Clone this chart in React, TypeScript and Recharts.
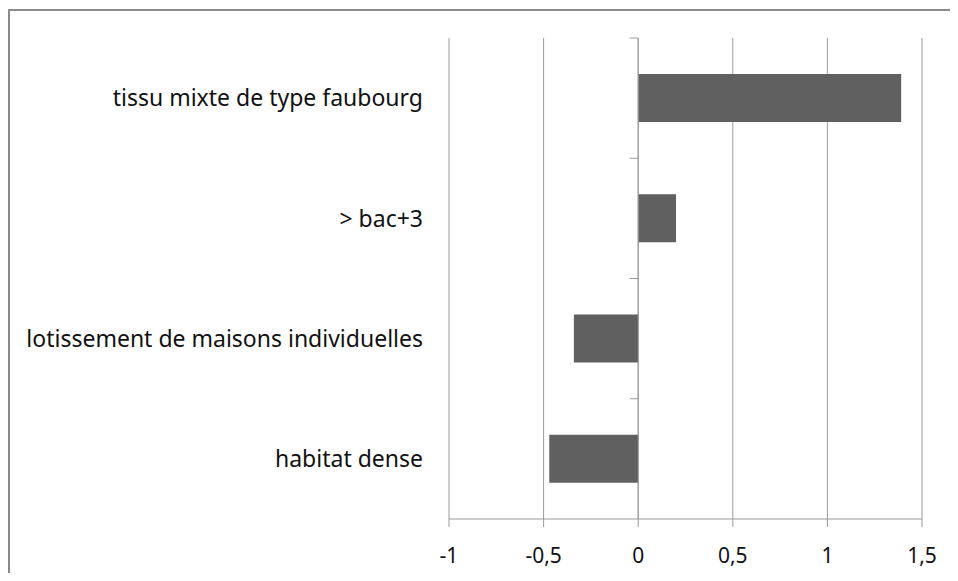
import { BarChart, Bar, XAxis, YAxis, CartesianGrid, ReferenceLine } from 'recharts';

const CATEGORIES = [
  'tissu mixte de type faubourg',
  '> bac+3',
  'lotissement de maisons individuelles',
  'habitat dense',
];
const VALUES = [1.39, 0.2, -0.34, -0.47];
const X_TICKS = [-1, -0.5, 0, 0.5, 1, 1.5];

const data = CATEGORIES.map((name, i) => ({ name, value: VALUES[i] }));

const FONT = '"Noto Sans", sans-serif';
const LINE = '#9a9a9a';

const fmt = (v: number) => String(v).replace('.', ',');

export default function App() {
  return (
    <div style={{ position: 'relative', width: 942, height: 565, overflow: 'hidden', background: '#fff' }}>
      <div
        style={{
          position: 'absolute',
          left: 0,
          top: 1,
          width: 2000,
          height: 2000,
          border: '2px solid #8a8a8a',
        }}
      />
      <div style={{ position: 'absolute', left: 0, top: 0 }}>
        <BarChart
          width={942}
          height={565}
          data={data}
          layout="vertical"
          barCategoryGap="30%"
          margin={{ top: 30, right: 28, bottom: 14, left: 0 }}
        >
          <CartesianGrid horizontal={false} stroke={LINE} />
          <XAxis
            type="number"
            domain={[-1, 1.5]}
            ticks={X_TICKS}
            tickFormatter={fmt}
            axisLine={{ stroke: LINE }}
            tickLine={{ stroke: LINE }}
            tickSize={8}
            tickMargin={21}
            height={40}
            tick={{ fontSize: 21, fill: '#111', fontFamily: FONT }}
            interval={0}
          />
          <YAxis
            type="category"
            dataKey="name"
            width={441}
            axisLine={false}
            tickLine={false}
            tickSize={0}
            tickMargin={26}
            tick={{ fontSize: 23, fill: '#111', fontFamily: FONT }}
            interval={0}
          />
          <ReferenceLine x={0} stroke={LINE} />
          {CATEGORIES.map((c) => (
            <ReferenceLine
              key={c}
              position="start"
              ifOverflow="visible"
              segment={[
                { x: -0.045, y: c },
                { x: 0, y: c },
              ]}
              stroke={LINE}
            />
          ))}
          <Bar dataKey="value" fill="#606060" isAnimationActive={false} />
        </BarChart>
      </div>
    </div>
  );
}
